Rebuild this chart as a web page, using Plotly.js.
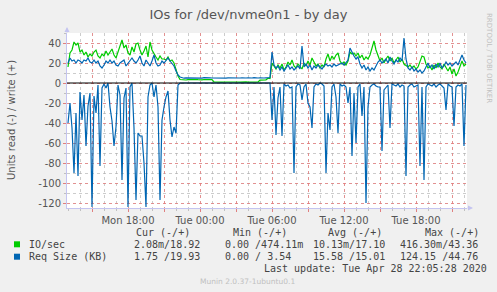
<!DOCTYPE html>
<html><head><meta charset="utf-8">
<script src="https://cdn.plot.ly/plotly-3.0.1.min.js"></script>
<style>html,body{margin:0;padding:0;background:#f0f0f0;}#chart{width:497px;height:292px;}</style>
</head><body><div id="chart"></div>
<script>
// sampling: 10-minute steps starting Mon 2020-04-27 13:00 (UTC-less wall clock)
const startTimeMs = Date.UTC(2020, 3, 27, 13, 0);
const stepMinutes = 10;

// IO/sec write (+)
const writeIOs = [
 16,30,33,41,38,40,31,33,28,31, 26,29,27,31,33,27,25,29,27,32,
 28,31,34,28,25,31,37,43,35,38, 30,28,36,31,39,40,33,28,32,37,
 26,41,33,29,26,23,27,24,24,23, 26,22,23,20,14,7,3.5,
 3.2,3.4,3.0,3.3,3.5,3.1,3.2,3.4,3.3,3.0,3.2,3.5,3.3,3.1,3.2,3.3,
 1.1,0.9,1.0,1.2,0.8,1.0,1.1,0.9,1.3,1.0,0.8,1.1,1.0,0.9,1.2,1.0,1.1,0.9,1.0,1.2,0.8,1.0,1.1,
 2.8,3.1,2.9,3.2,4.8,4.5,
 20,17,14,18,15,19,13,16,21,18, 23,17,15,19,17,14,20,17,22,18,
 25,21,17,19,15,18,16,24,29,22, 27,24,28,30,22,19,21,18,22,31,
 29,30,27,30,25,28,23,26,24,28, 36,42,33,27,22,25,20,24,27,22,
 25,20,23,26,21,24,19,17,16,18, 15,17,14,16,21,27,26,19,15,17,
 13,18,15,20,16,14,19,15,12,16, 9,14,7,11,16,22,17,19
];

// Req Size (KB) write (+)
const writeReqSize = [
 20,25,22,23,20,23,22,20,23,22, 25,21,20,23,20,22,17,15,18,22,
 20,23,20,22,18,17,20,22,23,17, 20,23,25,22,20,23,27,20,17,23,
 20,17,22,28,20,17,18,22,20,23, 25,22,20,17,12,8,6,
 5.0,4.8,5.1,5.0,4.9,5.2,5.0,4.7,5.1,5.0, 4.9,5.3,5.0,4.8,5.1,5.0,4.9,5.2,5.0,4.8,
 5.1,5.0,4.9,5.2,5.1,4.8,5.0,5.1,4.9,5.0, 5.2,4.8,5.0,5.1,4.9,5.0,5.3,4.9,5.0,5.1,
 4.8,5.0,5.2,5.0,5.5,
 31,18,15,17,13,16,12,15,18,14, 16,13,15,17,14,37,16,19,15,18,
 13,17,15,18,16,14,17,19,17,18, 16,19,17,18,19,20,18,21,23,35,
 30,27,24,26,19,15,18,13,16,12, 15,13,17,21,23,20,22,24,20,26,
 22,19,23,21,25,22,45,24,15,13, 16,12,14,11,13,10,12,17,20,15,
 18,14,19,16,20,15,17,21,18,20, 17,19,21,18,24,28,23,20
];

// Req Size (KB) read (-), stored as positive magnitudes
const readReqSize = [
 40,20,45,90,30,93,9,37,12,63, 23,10,124,13,30,2,83,5,1,5,
 0,24,38,63,44,2,12,97,15,5, 124,4,0,45,117,50,53,53,80,124,
 14,2,0,14,2,24,117,37,24,14, 8,37,54,44,50,2,0,
 0,0,0,0,0,0,0,0,0,0, 0,0,0,0,0,0,0,0,0,0, 0,0,0,0,0,0,0,0,0,0,
 0,0,0,0,0,0,0,0,0,0, 0,0,0,0,0,
 37,4,52,15,4,53,1,3,2,5, 4,90,4,1,2,17,4,1,20,24,
 45,4,1,2,0,1,3,90,30,47, 4,1,14,50,1,3,2,4,20,4,
 73,10,60,4,1,33,4,120,24,4, 2,1,3,4,4,68,7,4,2,45,
 1,2,3,1,4,2,3,93,4,2, 1,4,3,2,83,4,97,4,1,2,
 3,1,4,2,1,3,5,27,1,3, 4,43,4,2,3,1,63,2
];

const xTickHours = [15,18,21,24,27,30,33,36,39,42,45];
const xTickLabels = ['', 'Mon 18:00', '', 'Tue 00:00', '', 'Tue 06:00', '', 'Tue 12:00', '', 'Tue 18:00', ''];
const yTickValues = [-120,-100,-80,-60,-40,-20,0,20,40];
const yTickLabels = ['-120','-100','-80','-60','-40','-20','0','20','40'];

const legendHeaders = ['Cur (-/+)', 'Min (-/+)', 'Avg (-/+)', 'Max (-/+)'];
const legendNames = ['IO/sec', 'Req Size (KB)'];
const legendRows = [
  ['2.08m/18.92', '0.00 /474.11m', '10.13m/17.10', '416.30m/43.36'],
  ['1.75 /19.93', '0.00 / 3.54', '15.58 /15.01', '124.15 /44.76']
];
const seriesColors = ['#00CC00', '#0066B3'];

const mon0 = Date.UTC(2020, 3, 27, 0, 0);
const hourMs = 3600000;
const times = writeIOs.map((_, i) => startTimeMs + i * stepMinutes * 60000);

const traces = [
  {x: times, y: writeIOs, type: 'scatter', mode: 'lines', line: {color: seriesColors[0], width: 1.2}, hoverinfo: 'skip'},
  {x: times, y: readReqSize.map(v => -v), type: 'scatter', mode: 'lines', line: {color: seriesColors[1], width: 1.2}, hoverinfo: 'skip'},
  {x: times, y: writeReqSize, type: 'scatter', mode: 'lines', line: {color: seriesColors[1], width: 1.2}, hoverinfo: 'skip'}
];

// pixel -> paper helpers (plot area 67..467 x 33..208)
const px = v => (v - 67) / 400;
const py = v => (208 - v) / 175;

const mono = {family: 'DejaVu Sans Mono', size: 10, color: '#444'};
const ann = [];
const headerX = [134, 230.7, 326, 422.7];
legendHeaders.forEach((t, k) => ann.push({text: t, x: px(headerX[k]), y: py(232.3), xref: 'paper', yref: 'paper', xanchor: 'left', yanchor: 'middle', showarrow: false, font: mono}));
const rowY = [244.3, 256.7];
const valX = [131.7, 223, 311, 398];
legendNames.forEach((n, r) => {
  ann.push({text: n, x: px(26.7), y: py(rowY[r]), xref: 'paper', yref: 'paper', xanchor: 'left', yanchor: 'middle', showarrow: false, font: mono});
  legendRows[r].forEach((t, k) => ann.push({text: t, x: px(valX[k]), y: py(rowY[r]), xref: 'paper', yref: 'paper', xanchor: 'left', yanchor: 'middle', showarrow: false, font: mono}));
});
ann.push({text: 'Last update: Tue Apr 28 22:05:28 2020', x: px(261.7), y: py(268.7), xref: 'paper', yref: 'paper', xanchor: 'left', yanchor: 'middle', showarrow: false, font: mono});
ann.push({text: 'Munin 2.0.37-1ubuntu0.1', x: px(247.5), y: py(281), xref: 'paper', yref: 'paper', xanchor: 'center', yanchor: 'middle', showarrow: false, font: {family: 'DejaVu Sans', size: 7.5, color: '#c0c0c0'}});
ann.push({text: 'Units read (-) / write (+)', x: px(11), y: py(120), xref: 'paper', yref: 'paper', xanchor: 'center', yanchor: 'middle', textangle: -90, showarrow: false, font: {family: 'DejaVu Sans', size: 10, color: '#555'}});
ann.push({text: 'RRDTOOL / TOBI OETIKER', x: px(489), y: py(58), xref: 'paper', yref: 'paper', xanchor: 'center', yanchor: 'middle', textangle: 90, showarrow: false, font: {family: 'DejaVu Sans', size: 7, color: '#c0c0c0'}});
// axis arrows
ann.push({text: '', x: px(67), y: py(27), xref: 'paper', yref: 'paper', ax: 0, ay: 7, showarrow: true, arrowhead: 2, arrowsize: 1, arrowwidth: 1, arrowcolor: '#c4c4f0'});
ann.push({text: '', x: px(473), y: py(208), xref: 'paper', yref: 'paper', ax: -7, ay: 0, showarrow: true, arrowhead: 2, arrowsize: 1, arrowwidth: 1, arrowcolor: '#c4c4f0'});

const shapes = [
  {type: 'line', xref: 'paper', yref: 'y', x0: 0, x1: 1, y0: 0, y1: 0, line: {color: '#000', width: 1}, layer: 'above'},
  {type: 'rect', xref: 'paper', yref: 'paper', x0: px(14), x1: px(20), y0: py(241.3), y1: py(247.3), fillcolor: seriesColors[0], line: {width: 0}},
  {type: 'rect', xref: 'paper', yref: 'paper', x0: px(14), x1: px(20), y0: py(253.7), y1: py(259.7), fillcolor: seriesColors[1], line: {width: 0}}
];

const layout = {
  width: 497, height: 292,
  margin: {l: 67, r: 30, t: 33, b: 84, pad: 0},
  paper_bgcolor: '#f0f0f0', plot_bgcolor: '#ffffff',
  showlegend: false,
  title: {text: 'IOs for /dev/nvme0n1 - by day', x: 0.5, xref: 'container', y: 1 - 14/292, yref: 'container', xanchor: 'center', yanchor: 'middle', font: {family: 'DejaVu Sans', size: 13, color: '#555'}},
  font: {family: 'DejaVu Sans', size: 10, color: '#555'},
  xaxis: {
    type: 'date',
    range: [Date.UTC(2020, 3, 27, 12, 55), Date.UTC(2020, 3, 28, 22, 15)],
    tickmode: 'array', tickvals: xTickHours.map(h => mon0 + h * hourMs), ticktext: xTickLabels,
    showgrid: true, gridcolor: 'rgba(235,120,120,0.7)', griddash: 'dot', gridwidth: 1,
    minor: {dtick: hourMs, tick0: '2020-04-27 00:00', showgrid: true, gridcolor: 'rgba(170,170,170,0.6)', griddash: 'dot', ticks: 'outside', ticklen: 2, tickcolor: '#c0c0c0'},
    ticks: 'outside', ticklen: 3, tickcolor: '#e08080',
    showline: true, linecolor: '#c4c4f0', linewidth: 1,
    zeroline: false, tickfont: {family: 'DejaVu Sans', size: 10, color: '#555'}
  },
  yaxis: {
    range: [-125, 50],
    tickmode: 'array', tickvals: yTickValues, ticktext: yTickLabels,
    showgrid: true, gridcolor: 'rgba(235,120,120,0.7)', griddash: 'dot', gridwidth: 1,
    minor: {dtick: 10, tick0: 0, showgrid: true, gridcolor: 'rgba(170,170,170,0.6)', griddash: 'dot', ticks: 'outside', ticklen: 2, tickcolor: '#c0c0c0'},
    ticks: 'outside', ticklen: 3, tickcolor: '#e08080',
    showline: true, linecolor: '#c4c4f0', linewidth: 1,
    zeroline: false, tickfont: {family: 'DejaVu Sans', size: 10, color: '#555'}
  },
  annotations: ann,
  shapes: shapes
};

Plotly.newPlot('chart', traces, layout, {staticPlot: true, displayModeBar: false});
</script>
</body></html>
